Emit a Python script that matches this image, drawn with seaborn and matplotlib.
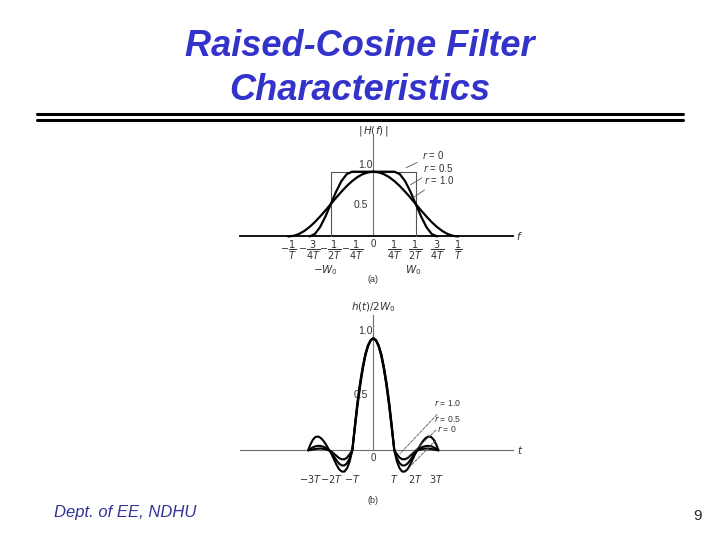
import matplotlib.pyplot as plt
import pandas as pd
import seaborn as sns
from matplotlib.lines import Line2D

# (a) spectrum |H(f)|, frequency in units of 1/T
freq_r10 = [-1.0, -0.9375, -0.875, -0.8125, -0.75, -0.6875, -0.625, -0.5625, -0.5, -0.4375, -0.375,
            -0.3125, -0.25, -0.1875, -0.125, -0.0625, 0.0, 0.0625, 0.125, 0.1875, 0.25, 0.3125, 0.375,
            0.4375, 0.5, 0.5625, 0.625, 0.6875, 0.75, 0.8125, 0.875, 0.9375, 1.0]
mag_r10 = [0.0, 0.01, 0.038, 0.084, 0.146, 0.222, 0.309, 0.402, 0.5, 0.598, 0.691,
           0.778, 0.854, 0.916, 0.962, 0.99, 1.0, 0.99, 0.962, 0.916, 0.854, 0.778, 0.691,
           0.598, 0.5, 0.402, 0.309, 0.222, 0.146, 0.084, 0.038, 0.01, 0.0]
freq_r05 = [-0.75, -0.6875, -0.625, -0.5625, -0.5, -0.4375, -0.375, -0.3125, -0.25, -0.1875, -0.125,
            -0.0625, 0.0, 0.0625, 0.125, 0.1875, 0.25, 0.3125, 0.375, 0.4375, 0.5, 0.5625, 0.625,
            0.6875, 0.75]
mag_r05 = [0.0, 0.038, 0.146, 0.309, 0.5, 0.691, 0.854, 0.962, 1.0, 1.0, 1.0,
           1.0, 1.0, 1.0, 1.0, 1.0, 1.0, 0.962, 0.854, 0.691, 0.5, 0.309, 0.146,
           0.038, 0.0]
freq_r00 = [-0.5, -0.5, 0.5, 0.5]
mag_r00 = [0.0, 1.0, 1.0, 0.0]

freq_ticks = [-1, -0.75, -0.5, -0.25, 0, 0.25, 0.5, 0.75, 1]
freq_labels = [r"$-\dfrac{1}{T}$", r"$-\dfrac{3}{4T}$", r"$-\dfrac{1}{2T}$", r"$-\dfrac{1}{4T}$", "0",
               r"$\dfrac{1}{4T}$", r"$\dfrac{1}{2T}$", r"$\dfrac{3}{4T}$", r"$\dfrac{1}{T}$"]

# (b) impulse response h(t)/2W0, time in units of T
time_pts = [-3.1, -3.0, -2.875, -2.75, -2.625, -2.5, -2.375, -2.25, -2.125, -2.0, -1.875, -1.75, -1.625,
            -1.5, -1.375, -1.25, -1.125, -1.0, -0.875, -0.75, -0.625, -0.5, -0.375, -0.25, -0.125,
            0.0,
            0.125, 0.25, 0.375, 0.5, 0.625, 0.75, 0.875, 1.0, 1.125, 1.25, 1.375, 1.5, 1.625,
            1.75, 1.875, 2.0, 2.125, 2.25, 2.375, 2.5, 2.625, 2.75, 2.875, 3.0, 3.1]
resp_r00 = [0.0, 0.05, 0.095, 0.12, 0.123, 0.11, 0.085, 0.05, 0.01, -0.03, -0.08, -0.13, -0.17,
            -0.19, -0.19, -0.16, -0.10, 0.0, 0.23, 0.44, 0.61, 0.75, 0.865, 0.94, 0.985,
            1.0,
            0.985, 0.94, 0.865, 0.75, 0.61, 0.44, 0.23, 0.0, -0.10, -0.16, -0.19, -0.19, -0.17,
            -0.13, -0.08, -0.03, 0.01, 0.05, 0.085, 0.11, 0.123, 0.12, 0.095, 0.05, 0.0]
resp_r05 = [0.0, 0.012, 0.027, 0.036, 0.04, 0.038, 0.032, 0.02, 0.005, -0.02, -0.055, -0.09, -0.12,
            -0.135, -0.135, -0.115, -0.07, 0.0, 0.215, 0.42, 0.595, 0.74, 0.855, 0.935, 0.983,
            1.0,
            0.983, 0.935, 0.855, 0.74, 0.595, 0.42, 0.215, 0.0, -0.07, -0.115, -0.135, -0.135, -0.12,
            -0.09, -0.055, -0.02, 0.005, 0.02, 0.032, 0.038, 0.04, 0.036, 0.027, 0.012, 0.0]
resp_r10 = [0.0, 0.003, 0.008, 0.012, 0.015, 0.016, 0.013, 0.008, 0.0, -0.01, -0.03, -0.05, -0.07,
            -0.08, -0.08, -0.065, -0.035, 0.0, 0.20, 0.40, 0.575, 0.725, 0.845, 0.93, 0.98,
            1.0,
            0.98, 0.93, 0.845, 0.725, 0.575, 0.40, 0.20, 0.0, -0.035, -0.065, -0.08, -0.08, -0.07,
            -0.05, -0.03, -0.01, 0.0, 0.008, 0.013, 0.016, 0.015, 0.012, 0.008, 0.003, 0.0]

time_ticks = [-3, -2, -1, 1, 2, 3]
time_labels = [r"$-3T$", r"$-2T$", r"$-T$", r"$T$", r"$2T$", r"$3T$"]

title_blue = "#3333cc"
footer_blue = "#333399"
axis_grey = "#707070"
text_grey = "#333333"

sns.set_style("white")
plt.rcParams["font.family"] = ["Liberation Sans", "DejaVu Sans"]
plt.rcParams["mathtext.fontset"] = "dejavusans"


def setup_axis(ax, ytop, spine_color, spine_width):
    for side in ["top", "right"]:
        ax.spines[side].set_visible(False)
    ax.spines["left"].set_position(("data", 0))
    ax.spines["bottom"].set_position(("data", 0))
    ax.spines["left"].set_bounds(0, ytop)
    ax.spines["left"].set_color(axis_grey)
    ax.spines["left"].set_linewidth(0.8)
    ax.spines["bottom"].set_color(spine_color)
    ax.spines["bottom"].set_linewidth(spine_width)
    for spine in ax.spines.values():
        spine.set_zorder(1)
    ax.set_xlabel("")
    ax.set_ylabel("")
    ax.patch.set_alpha(0)


fig = plt.figure(figsize=(7.2, 5.4), dpi=100)

# ---- panel (a)
ax_a = fig.add_axes([240 / 720, 1 - 239.7 / 540, 273 / 720, 111.7 / 540])
spec = pd.concat([
    pd.DataFrame({"f": freq_r10, "H": mag_r10, "r": "1.0"}),
    pd.DataFrame({"f": freq_r05, "H": mag_r05, "r": "0.5"}),
])
sns.lineplot(data=spec, x="f", y="H", hue="r", palette={"1.0": "black", "0.5": "black"},
             estimator=None, sort=False, legend=False, linewidth=1.6, ax=ax_a, zorder=3)
sns.lineplot(x=freq_r00, y=mag_r00, estimator=None, sort=False, color="#555555",
             linewidth=0.8, ax=ax_a, zorder=2)
ax_a.set_xlim(-1.568, 1.644)
ax_a.set_ylim(-0.05, 1.675)
setup_axis(ax_a, 1.56, "black", 1.3)
ax_a.set_xticks(freq_ticks)
ax_a.set_xticklabels(freq_labels)
ax_a.set_yticks([0.5])
ax_a.set_yticklabels(["0.5"])
ax_a.tick_params(axis="x", direction="in", length=4, width=0.8, color=axis_grey, pad=2,
                 labelsize=7, labelcolor=text_grey)
ax_a.tick_params(axis="y", direction="out", length=3, width=0.8, color=axis_grey, pad=1,
                 labelsize=7.5, labelcolor=text_grey)
ax_a.text(-0.01, 1.03, "1.0", ha="right", va="bottom", fontsize=7.5, color=text_grey)
ax_a.text(0, 1.63, r"$|\,H(f)\,|$", ha="center", va="center", fontsize=7.5, color=text_grey)
ax_a.text(1.68, 0, r"$f$", ha="left", va="center", fontsize=7.5, color=text_grey)
ax_a.text(-0.556, -0.517, r"$-W_0$", ha="center", va="center", fontsize=7.5, color=text_grey)
ax_a.text(0.47, -0.517, r"$W_0$", ha="center", va="center", fontsize=7.5, color=text_grey)
ax_a.text(0, -0.671, "(a)", ha="center", va="center", fontsize=6.5, color=text_grey)

top_notes = [("r = 0", (0.57, 1.258), (0.385, 1.06)),
             ("r = 0.5", (0.59, 1.057), (0.44, 0.80)),
             ("r = 1.0", (0.60, 0.872), (0.47, 0.60))]
for label, text_xy, tip_xy in top_notes:
    ax_a.annotate(r"$r$" + label[1:], xy=tip_xy, xytext=text_xy, ha="left", va="center",
                  fontsize=7, color=text_grey,
                  arrowprops=dict(arrowstyle="-", color="#555555", lw=0.6, shrinkA=1, shrinkB=0))

# ---- panel (b)
ax_b = fig.add_axes([240 / 720, 1 - 478.3 / 540, 273 / 720, 163.5 / 540])
resp = pd.concat([
    pd.DataFrame({"t": time_pts, "h": resp_r00, "r": "0"}),
    pd.DataFrame({"t": time_pts, "h": resp_r05, "r": "0.5"}),
    pd.DataFrame({"t": time_pts, "h": resp_r10, "r": "1.0"}),
])
sns.lineplot(data=resp, x="t", y="h", hue="r", palette={"0": "black", "0.5": "black", "1.0": "black"},
             estimator=None, sort=False, legend=False, linewidth=1.5, ax=ax_b, zorder=3)
ax_b.set_xlim(-6.348, 6.652)
ax_b.set_ylim(-0.25, 1.21)
setup_axis(ax_b, 1.21, axis_grey, 0.8)
ax_b.set_xticks(time_ticks)
ax_b.set_xticklabels(time_labels)
ax_b.set_yticks([0.5])
ax_b.set_yticklabels(["0.5"])
ax_b.tick_params(axis="x", length=0, pad=16, labelsize=7, labelcolor=text_grey)
ax_b.tick_params(axis="y", direction="out", length=3, width=0.8, color=axis_grey, pad=1,
                 labelsize=7.5, labelcolor=text_grey)
ax_b.text(-0.03, 1.02, "1.0", ha="right", va="bottom", fontsize=7.5, color=text_grey)
ax_b.text(0, -0.07, "0", ha="center", va="center", fontsize=7, color=text_grey)
ax_b.text(0, 1.28, r"$h(t)/2W_0$", ha="center", va="center", fontsize=7.5, color=text_grey)
ax_b.text(6.83, 0, r"$t$", ha="left", va="center", fontsize=7.5, color=text_grey)
ax_b.text(0, -0.444, "(b)", ha="center", va="center", fontsize=6.5, color=text_grey)

bottom_notes = [("r = 1.0", (2.9, 0.42), (1.27, -0.03)),
                ("r = 0.5", (2.9, 0.28), (1.59, -0.07)),
                ("r = 0", (3.02, 0.19), (1.75, -0.145))]
for label, text_xy, tip_xy in bottom_notes:
    ax_b.annotate(r"$r$" + label[1:], xy=tip_xy, xytext=text_xy, ha="left", va="center",
                  fontsize=6.2, color=text_grey,
                  arrowprops=dict(arrowstyle="-", color="#555555", lw=0.6, linestyle="--",
                                  shrinkA=3, shrinkB=0))

# ---- slide title, rules and footer
fig.text(0.5, 1 - 47 / 540, "Raised-Cosine Filter", ha="center", va="center", fontsize=26,
         fontweight="bold", fontstyle="italic", color=title_blue)
fig.text(0.5, 1 - 90 / 540, "Characteristics", ha="center", va="center", fontsize=26,
         fontweight="bold", fontstyle="italic", color=title_blue)
for y_px in [114, 120]:
    fig.add_artist(Line2D([37 / 720, 683 / 720], [1 - y_px / 540] * 2, color="black", linewidth=2.2))
fig.text(125 / 720, 1 - 513 / 540, "Dept. of EE, NDHU", ha="center", va="center", fontsize=12,
         fontstyle="italic", color=footer_blue)
fig.text(697 / 720, 1 - 516 / 540, "9", ha="center", va="center", fontsize=11, color="#222222")

fig.savefig("out.png", dpi=100)
plt.close(fig)
